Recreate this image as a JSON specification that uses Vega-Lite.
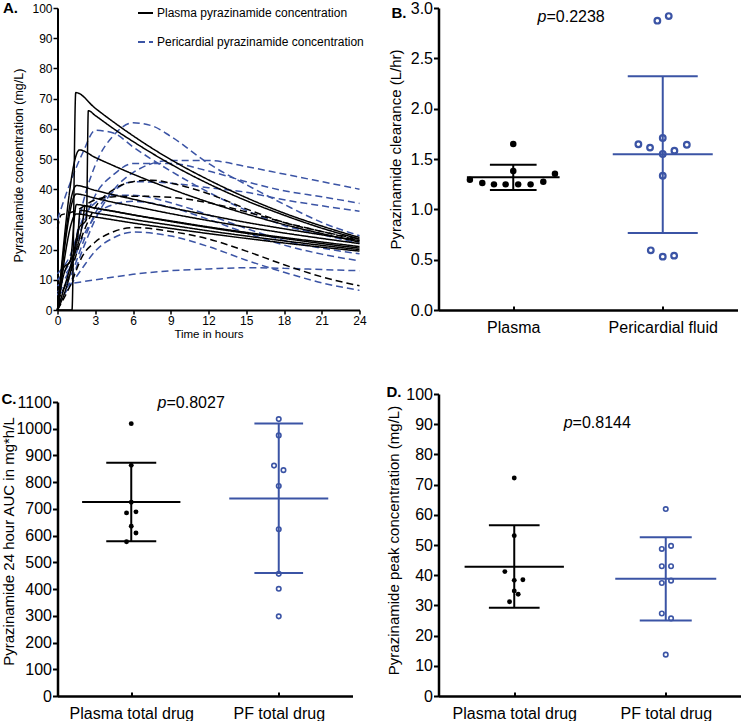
{
"$schema":"https://vega.github.io/schema/vega-lite/v6.json",
"background":"white",
"padding":{"left":0.5,"top":0,"right":0,"bottom":0},
"columns":2,
"spacing":{"row":84,"column":78},
"bounds":"flush",
"align":"all",
"config":{
 "font":"Liberation Sans",
 "view":{"stroke":null},
 "axis":{"grid":false,"domainColor":"#000","tickColor":"#000","labelColor":"#000","titleColor":"#000","titleFontWeight":"normal","labelFont":"Liberation Sans","titleFont":"Liberation Sans"},
 "title":{"color":"#000","font":"Liberation Sans"}
},
"concat":[
{
 "width":302,"height":302,
 "title":{"text":"A.","anchor":"start","frame":"group","fontSize":15,"fontWeight":"bold","dx":-54.5,"offset":-25.5,"baseline":"alphabetic"},
 "data":{"values":[
{"s":"B1","g":"F","t":0,"v":8},{"s":"B1","g":"F","t":1,"v":14},{"s":"B1","g":"F","t":2,"v":35},{"s":"B1","g":"F","t":3,"v":48},{"s":"B1","g":"F","t":4.5,"v":58},{"s":"B1","g":"F","t":6,"v":62},{"s":"B1","g":"F","t":7.5,"v":61},{"s":"B1","g":"F","t":9,"v":57.5},{"s":"B1","g":"F","t":12,"v":48.5},{"s":"B1","g":"F","t":15,"v":41.5},{"s":"B1","g":"F","t":18,"v":35},{"s":"B1","g":"F","t":21,"v":29},{"s":"B1","g":"F","t":24,"v":24.6},
{"s":"B2","g":"F","t":0,"v":30},{"s":"B2","g":"F","t":1,"v":42},{"s":"B2","g":"F","t":2,"v":52},{"s":"B2","g":"F","t":3,"v":59.5},{"s":"B2","g":"F","t":4.5,"v":58.5},{"s":"B2","g":"F","t":6,"v":54},{"s":"B2","g":"F","t":9,"v":46},{"s":"B2","g":"F","t":12,"v":39},{"s":"B2","g":"F","t":15,"v":33},{"s":"B2","g":"F","t":18,"v":28},{"s":"B2","g":"F","t":21,"v":25},{"s":"B2","g":"F","t":24,"v":22},
{"s":"B3","g":"F","t":0,"v":5},{"s":"B3","g":"F","t":1,"v":9},{"s":"B3","g":"F","t":2,"v":20},{"s":"B3","g":"F","t":3,"v":30},{"s":"B3","g":"F","t":4.5,"v":40},{"s":"B3","g":"F","t":6,"v":45.5},{"s":"B3","g":"F","t":9,"v":49.5},{"s":"B3","g":"F","t":12,"v":49.5},{"s":"B3","g":"F","t":15,"v":47.5},{"s":"B3","g":"F","t":18,"v":45},{"s":"B3","g":"F","t":21,"v":42.5},{"s":"B3","g":"F","t":24,"v":40},
{"s":"B4","g":"F","t":0,"v":10},{"s":"B4","g":"F","t":1,"v":16},{"s":"B4","g":"F","t":2,"v":28},{"s":"B4","g":"F","t":3,"v":38},{"s":"B4","g":"F","t":4.5,"v":45},{"s":"B4","g":"F","t":6,"v":48.5},{"s":"B4","g":"F","t":9,"v":48.5},{"s":"B4","g":"F","t":12,"v":46},{"s":"B4","g":"F","t":15,"v":42.5},{"s":"B4","g":"F","t":18,"v":39.5},{"s":"B4","g":"F","t":21,"v":37.5},{"s":"B4","g":"F","t":24,"v":35.3},
{"s":"B5","g":"F","t":0,"v":6},{"s":"B5","g":"F","t":1,"v":11},{"s":"B5","g":"F","t":2,"v":22},{"s":"B5","g":"F","t":3,"v":32},{"s":"B5","g":"F","t":4.5,"v":39.5},{"s":"B5","g":"F","t":6,"v":42.5},{"s":"B5","g":"F","t":9,"v":42},{"s":"B5","g":"F","t":12,"v":40.5},{"s":"B5","g":"F","t":15,"v":39},{"s":"B5","g":"F","t":18,"v":36.5},{"s":"B5","g":"F","t":21,"v":34.5},{"s":"B5","g":"F","t":24,"v":32.7},
{"s":"B6","g":"F","t":0,"v":12},{"s":"B6","g":"F","t":1,"v":18},{"s":"B6","g":"F","t":2,"v":30},{"s":"B6","g":"F","t":3,"v":35.5},{"s":"B6","g":"F","t":4.5,"v":38},{"s":"B6","g":"F","t":6,"v":38},{"s":"B6","g":"F","t":9,"v":35.5},{"s":"B6","g":"F","t":12,"v":31.5},{"s":"B6","g":"F","t":15,"v":27},{"s":"B6","g":"F","t":18,"v":23},{"s":"B6","g":"F","t":21,"v":20.5},{"s":"B6","g":"F","t":24,"v":18.6},
{"s":"B7","g":"F","t":0,"v":2},{"s":"B7","g":"F","t":1,"v":8},{"s":"B7","g":"F","t":2,"v":14},{"s":"B7","g":"F","t":3,"v":19.5},{"s":"B7","g":"F","t":4.5,"v":24},{"s":"B7","g":"F","t":6,"v":25.8},{"s":"B7","g":"F","t":9,"v":24.5},{"s":"B7","g":"F","t":12,"v":21},{"s":"B7","g":"F","t":15,"v":16.5},{"s":"B7","g":"F","t":18,"v":12.5},{"s":"B7","g":"F","t":21,"v":9},{"s":"B7","g":"F","t":24,"v":6.5},
{"s":"B8","g":"F","t":0,"v":5},{"s":"B8","g":"F","t":0.7,"v":8.5},{"s":"B8","g":"F","t":1,"v":8.7},{"s":"B8","g":"F","t":3,"v":10},{"s":"B8","g":"F","t":6,"v":11.8},{"s":"B8","g":"F","t":9,"v":13},{"s":"B8","g":"F","t":12,"v":13.6},{"s":"B8","g":"F","t":15,"v":14},{"s":"B8","g":"F","t":18,"v":13.8},{"s":"B8","g":"F","t":21,"v":13.4},{"s":"B8","g":"F","t":24,"v":13},
{"s":"B9","g":"F","t":0,"v":10},{"s":"B9","g":"F","t":1,"v":14},{"s":"B9","g":"F","t":2,"v":24},{"s":"B9","g":"F","t":3,"v":31},{"s":"B9","g":"F","t":4.5,"v":35},{"s":"B9","g":"F","t":6,"v":36},{"s":"B9","g":"F","t":9,"v":34},{"s":"B9","g":"F","t":12,"v":30},{"s":"B9","g":"F","t":15,"v":25.5},{"s":"B9","g":"F","t":18,"v":21.5},{"s":"B9","g":"F","t":21,"v":18.5},{"s":"B9","g":"F","t":24,"v":16.3},
{"s":"K1","g":"K","t":0,"v":3},{"s":"K1","g":"K","t":1,"v":12},{"s":"K1","g":"K","t":2,"v":25},{"s":"K1","g":"K","t":3,"v":34},{"s":"K1","g":"K","t":4.5,"v":40},{"s":"K1","g":"K","t":6,"v":42.5},{"s":"K1","g":"K","t":7.5,"v":43},{"s":"K1","g":"K","t":9,"v":42},{"s":"K1","g":"K","t":12,"v":38.5},{"s":"K1","g":"K","t":15,"v":33.5},{"s":"K1","g":"K","t":18,"v":29},{"s":"K1","g":"K","t":21,"v":26},{"s":"K1","g":"K","t":24,"v":23.5},
{"s":"K2","g":"K","t":0,"v":27},{"s":"K2","g":"K","t":0.3,"v":31.5},{"s":"K2","g":"K","t":0.8,"v":32},{"s":"K2","g":"K","t":1.5,"v":33},{"s":"K2","g":"K","t":3,"v":36.5},{"s":"K2","g":"K","t":4.5,"v":37.5},{"s":"K2","g":"K","t":6,"v":37.7},{"s":"K2","g":"K","t":9,"v":37.3},{"s":"K2","g":"K","t":12,"v":35.5},{"s":"K2","g":"K","t":15,"v":32.5},{"s":"K2","g":"K","t":18,"v":29},{"s":"K2","g":"K","t":21,"v":26},{"s":"K2","g":"K","t":24,"v":23},
{"s":"K3","g":"K","t":0,"v":0},{"s":"K3","g":"K","t":1,"v":8},{"s":"K3","g":"K","t":2,"v":18},{"s":"K3","g":"K","t":3,"v":22.5},{"s":"K3","g":"K","t":4.5,"v":26},{"s":"K3","g":"K","t":6,"v":27.3},{"s":"K3","g":"K","t":9,"v":26},{"s":"K3","g":"K","t":12,"v":23.5},{"s":"K3","g":"K","t":15,"v":19.5},{"s":"K3","g":"K","t":18,"v":15},{"s":"K3","g":"K","t":21,"v":11},{"s":"K3","g":"K","t":24,"v":8},
{"s":"P1","g":"P","t":0,"v":0},{"s":"P1","g":"P","t":1.15,"v":0},{"s":"P1","g":"P","t":1.45,"v":72},{"s":"P1","g":"P","t":3,"v":66.8},{"s":"P1","g":"P","t":4.5,"v":62.1},{"s":"P1","g":"P","t":6,"v":57.7},{"s":"P1","g":"P","t":9,"v":49.8},{"s":"P1","g":"P","t":12,"v":43.1},{"s":"P1","g":"P","t":15,"v":37.2},{"s":"P1","g":"P","t":18,"v":32.1},{"s":"P1","g":"P","t":21,"v":27.8},{"s":"P1","g":"P","t":24,"v":24},
{"s":"P2","g":"P","t":0,"v":0},{"s":"P2","g":"P","t":1,"v":12},{"s":"P2","g":"P","t":1.7,"v":27},{"s":"P2","g":"P","t":2.3,"v":30},{"s":"P2","g":"P","t":2.45,"v":66},{"s":"P2","g":"P","t":3,"v":64.4},{"s":"P2","g":"P","t":4.5,"v":59.9},{"s":"P2","g":"P","t":6,"v":55.8},{"s":"P2","g":"P","t":9,"v":48.3},{"s":"P2","g":"P","t":12,"v":41.8},{"s":"P2","g":"P","t":15,"v":36.2},{"s":"P2","g":"P","t":18,"v":31.4},{"s":"P2","g":"P","t":21,"v":27.1},{"s":"P2","g":"P","t":24,"v":23.5},
{"s":"P3","g":"P","t":0,"v":0},{"s":"P3","g":"P","t":1.75,"v":53},{"s":"P3","g":"P","t":3,"v":50.5},{"s":"P3","g":"P","t":4.5,"v":47.7},{"s":"P3","g":"P","t":6,"v":45},{"s":"P3","g":"P","t":9,"v":40.1},{"s":"P3","g":"P","t":12,"v":35.7},{"s":"P3","g":"P","t":15,"v":31.8},{"s":"P3","g":"P","t":18,"v":28.3},{"s":"P3","g":"P","t":21,"v":25.3},{"s":"P3","g":"P","t":24,"v":22.5},
{"s":"P4","g":"P","t":0,"v":0},{"s":"P4","g":"P","t":1.5,"v":41.2},{"s":"P4","g":"P","t":3,"v":39.6},{"s":"P4","g":"P","t":4.5,"v":38.1},{"s":"P4","g":"P","t":6,"v":36.7},{"s":"P4","g":"P","t":9,"v":33.9},{"s":"P4","g":"P","t":12,"v":31.4},{"s":"P4","g":"P","t":15,"v":29},{"s":"P4","g":"P","t":18,"v":26.9},{"s":"P4","g":"P","t":21,"v":24.9},{"s":"P4","g":"P","t":24,"v":23},
{"s":"P5","g":"P","t":0,"v":0},{"s":"P5","g":"P","t":1.5,"v":38.4},{"s":"P5","g":"P","t":3,"v":37},{"s":"P5","g":"P","t":4.5,"v":35.6},{"s":"P5","g":"P","t":6,"v":34.4},{"s":"P5","g":"P","t":9,"v":31.9},{"s":"P5","g":"P","t":12,"v":29.6},{"s":"P5","g":"P","t":15,"v":27.5},{"s":"P5","g":"P","t":18,"v":25.5},{"s":"P5","g":"P","t":21,"v":23.7},{"s":"P5","g":"P","t":24,"v":22},
{"s":"P6","g":"P","t":0,"v":0},{"s":"P6","g":"P","t":0.5,"v":14},{"s":"P6","g":"P","t":1,"v":16},{"s":"P6","g":"P","t":1.5,"v":34.9},{"s":"P6","g":"P","t":3,"v":33.7},{"s":"P6","g":"P","t":4.5,"v":32.6},{"s":"P6","g":"P","t":6,"v":31.5},{"s":"P6","g":"P","t":9,"v":29.5},{"s":"P6","g":"P","t":12,"v":27.5},{"s":"P6","g":"P","t":15,"v":25.7},{"s":"P6","g":"P","t":18,"v":24},{"s":"P6","g":"P","t":21,"v":22.5},{"s":"P6","g":"P","t":24,"v":21},
{"s":"P7","g":"P","t":0,"v":0},{"s":"P7","g":"P","t":1,"v":14},{"s":"P7","g":"P","t":2,"v":29},{"s":"P7","g":"P","t":2.2,"v":34.5},{"s":"P7","g":"P","t":3,"v":33.8},{"s":"P7","g":"P","t":4.5,"v":32.7},{"s":"P7","g":"P","t":6,"v":31.5},{"s":"P7","g":"P","t":9,"v":29.3},{"s":"P7","g":"P","t":12,"v":27.3},{"s":"P7","g":"P","t":15,"v":25.4},{"s":"P7","g":"P","t":18,"v":23.7},{"s":"P7","g":"P","t":21,"v":22},{"s":"P7","g":"P","t":24,"v":20.5},
{"s":"P8","g":"P","t":0,"v":0},{"s":"P8","g":"P","t":1.5,"v":31.8},{"s":"P8","g":"P","t":3,"v":30.8},{"s":"P8","g":"P","t":4.5,"v":29.8},{"s":"P8","g":"P","t":6,"v":28.8},{"s":"P8","g":"P","t":9,"v":27},{"s":"P8","g":"P","t":12,"v":25.3},{"s":"P8","g":"P","t":15,"v":23.7},{"s":"P8","g":"P","t":18,"v":22.2},{"s":"P8","g":"P","t":21,"v":20.8},{"s":"P8","g":"P","t":24,"v":19.5},
{"s":"P9","g":"P","t":0,"v":0},{"s":"P9","g":"P","t":0.3,"v":8},{"s":"P9","g":"P","t":1.6,"v":24},{"s":"P9","g":"P","t":1.8,"v":33},{"s":"P9","g":"P","t":3,"v":32.1},{"s":"P9","g":"P","t":4.5,"v":31.1},{"s":"P9","g":"P","t":6,"v":30},{"s":"P9","g":"P","t":9,"v":28.1},{"s":"P9","g":"P","t":12,"v":26.2},{"s":"P9","g":"P","t":15,"v":24.5},{"s":"P9","g":"P","t":18,"v":22.9},{"s":"P9","g":"P","t":21,"v":21.4},{"s":"P9","g":"P","t":24,"v":20}
 ]},
 "mark":{"type":"line","interpolate":"monotone","strokeWidth":1.5},
 "encoding":{
  "x":{"field":"t","type":"quantitative","scale":{"domain":[0,24],"nice":false},"axis":{"values":[0,3,6,9,12,15,18,21,24],"title":"Time in hours","labelFontSize":12,"titleFontSize":11.5,"tickSize":4,"tickWidth":1.5,"labelPadding":1,"domainWidth":2,"titlePadding":2,"labelFlush":false}},
  "y":{"field":"v","type":"quantitative","scale":{"domain":[0,100],"nice":false},"axis":{"values":[0,10,20,30,40,50,60,70,80,90,100],"title":"Pyrazinamide concentration (mg/L)","labelFontSize":12,"titleFontSize":12.5,"tickSize":4.5,"tickWidth":1.5,"labelPadding":1,"domainWidth":2,"titleX":-35,"titleY":157,"titleBaseline":"alphabetic","titleAngle":-90,"titleAlign":"center"}},
  "detail":{"field":"s","type":"nominal"},
  "color":{"field":"g","type":"nominal","scale":{"domain":["P","F","K"],"range":["#000000","#3b54a5","#000000"]},"legend":{"values":["P","F"],"title":null,"orient":"none","legendX":79.5,"legendY":-3.5,"labelExpr":"datum.value == 'P' ? 'Plasma pyrazinamide concentration' : 'Pericardial pyrazinamide concentration'","labelFontSize":12,"labelColor":"#000","labelLimit":400,"symbolType":"stroke","symbolSize":225,"symbolStrokeWidth":2,"labelOffset":3,"rowPadding":14,"padding":0}},
  "strokeDash":{"field":"g","type":"nominal","scale":{"domain":["P","F","K"],"range":[[1,0],[7,4],[7,4]]},"legend":{"values":["P","F"],"title":null,"orient":"none","legendX":79.5,"legendY":-3.5,"labelExpr":"datum.value == 'P' ? 'Plasma pyrazinamide concentration' : 'Pericardial pyrazinamide concentration'","labelFontSize":12,"labelColor":"#000","labelLimit":400,"symbolType":"stroke","symbolSize":225,"symbolStrokeWidth":2,"labelOffset":3,"rowPadding":14,"padding":0}}
 }
},
{
 "width":299,"height":302,
 "title":{"text":"B.","anchor":"start","frame":"group","fontSize":15,"fontWeight":"bold","dx":-47,"offset":-33,"baseline":"alphabetic"},
 "encoding":{
  "x":{"field":"x","type":"quantitative","scale":{"domain":[0.5,2.5],"nice":false,"zero":false},"axis":{"values":[1,2],"labelExpr":"datum.value == 1 ? 'Plasma' : 'Pericardial fluid'","title":null,"labelFontSize":16,"tickSize":-4,"tickWidth":2,"labelPadding":13,"domainWidth":2.5}},
  "y":{"field":"v","type":"quantitative","scale":{"domain":[0,3],"nice":false},"axis":{"values":[0,0.5,1,1.5,2,2.5,3],"format":".1f","labelFontSize":16,"tickSize":5,"tickWidth":2,"labelPadding":1,"domainWidth":2.5,"title":"Pyrazinamide clearance (L/hr)","titleFontSize":15,"titleX":-38.5,"titleY":141,"titleBaseline":"alphabetic","titleAngle":-90,"titleAlign":"center"}}
 },
 "layer":[
  {"data":{"values":[{"x":1,"v":1.192,"v2":1.444}]},"mark":{"type":"rule","color":"#000","strokeWidth":2},"encoding":{"y2":{"field":"v2"}}},
  {"data":{"values":[{"x":2,"v":0.765,"v2":2.321}]},"mark":{"type":"rule","color":"#3b54a5","strokeWidth":2},"encoding":{"y2":{"field":"v2"}}},
  {"data":{"values":[{"x":1,"v":1.318}]},"mark":{"type":"tick","orient":"horizontal","size":92.7,"thickness":2,"color":"#000","opacity":1},"encoding":{}},
  {"data":{"values":[{"x":2,"v":1.546}]},"mark":{"type":"tick","orient":"horizontal","size":100,"thickness":2,"color":"#3b54a5","opacity":1},"encoding":{}},
  {"data":{"values":[{"x":1,"v":1.192},{"x":1,"v":1.444}]},"mark":{"type":"tick","orient":"horizontal","size":46.7,"thickness":2,"color":"#000","opacity":1},"encoding":{}},
  {"data":{"values":[{"x":2,"v":0.765},{"x":2,"v":2.321}]},"mark":{"type":"tick","orient":"horizontal","size":70,"thickness":2,"color":"#3b54a5","opacity":1},"encoding":{}},
  {"data":{"values":[{"x":0.710,"v":1.295},{"x":0.793,"v":1.262},{"x":0.871,"v":1.248},{"x":0.949,"v":1.248},{"x":1.033,"v":1.248},{"x":1.116,"v":1.248},{"x":1.201,"v":1.275},{"x":1.279,"v":1.354},{"x":1,"v":1.649},{"x":1,"v":1.381}]},"mark":{"type":"circle","color":"#000","size":42,"opacity":1},"encoding":{}},
  {"data":{"values":[{"x":1.964,"v":2.874},{"x":2.040,"v":2.92},{"x":1.837,"v":1.646},{"x":1.915,"v":1.613},{"x":2,"v":1.709},{"x":2,"v":1.55},{"x":2.078,"v":1.583},{"x":2.161,"v":1.642},{"x":2,"v":1.334},{"x":1.920,"v":0.593},{"x":2,"v":0.53},{"x":2.076,"v":0.54}]},"mark":{"type":"point","shape":"circle","filled":false,"color":"#3b54a5","size":32,"strokeWidth":2.2,"opacity":1},"encoding":{}},
  {"data":{"values":[{"x":1.222,"v":2.91}]},"mark":{"type":"text","text":"p","fontStyle":"italic","align":"right","baseline":"middle","fontSize":16,"color":"#000"},"encoding":{}},
  {"data":{"values":[{"x":1.222,"v":2.91}]},"mark":{"type":"text","text":"=0.2238","align":"left","baseline":"middle","fontSize":16,"color":"#000"},"encoding":{}}
 ]
},
{
 "width":295,"height":302,
 "title":{"text":"C.","anchor":"start","frame":"group","fontSize":15,"fontWeight":"bold","dx":-56,"offset":-25,"baseline":"alphabetic"},
 "encoding":{
  "x":{"field":"x","type":"quantitative","scale":{"domain":[0.5,2.5],"nice":false,"zero":false},"axis":{"values":[1,2],"labelExpr":"datum.value == 1 ? 'Plasma total drug' : 'PF total drug'","title":null,"labelFontSize":16,"tickSize":-4,"tickWidth":2,"labelPadding":13,"domainWidth":2.5}},
  "y":{"field":"v","type":"quantitative","scale":{"domain":[0,1100],"rangeMax":8,"nice":false},"axis":{"values":[0,100,200,300,400,500,600,700,800,900,1000,1100],"format":"d","labelFontSize":16,"tickSize":5,"tickWidth":2,"labelPadding":1,"domainWidth":2.5,"title":"Pyrazinamide 24 hour AUC in mg*h/L","titleFontSize":15,"titleX":-44.5,"titleY":147,"titleBaseline":"alphabetic","titleAngle":-90,"titleAlign":"center"}}
 },
 "layer":[
  {"data":{"values":[{"x":1,"v":579,"v2":873}]},"mark":{"type":"rule","color":"#000","strokeWidth":2},"encoding":{"y2":{"field":"v2"}}},
  {"data":{"values":[{"x":2,"v":460,"v2":1020}]},"mark":{"type":"rule","color":"#3b54a5","strokeWidth":2},"encoding":{"y2":{"field":"v2"}}},
  {"data":{"values":[{"x":1,"v":726}]},"mark":{"type":"tick","orient":"horizontal","size":98.3,"thickness":2,"color":"#000","opacity":1},"encoding":{}},
  {"data":{"values":[{"x":2,"v":739}]},"mark":{"type":"tick","orient":"horizontal","size":99,"thickness":2,"color":"#3b54a5","opacity":1},"encoding":{}},
  {"data":{"values":[{"x":1,"v":579},{"x":1,"v":873}]},"mark":{"type":"tick","orient":"horizontal","size":50,"thickness":2,"color":"#000","opacity":1},"encoding":{}},
  {"data":{"values":[{"x":2,"v":460},{"x":2,"v":1020}]},"mark":{"type":"tick","orient":"horizontal","size":48.7,"thickness":2,"color":"#3b54a5","opacity":1},"encoding":{}},
  {"data":{"values":[{"x":1,"v":1019},{"x":1,"v":863},{"x":1,"v":725},{"x":0.968,"v":685},{"x":1.032,"v":689},{"x":1,"v":635},{"x":1.032,"v":610},{"x":0.968,"v":577}]},"mark":{"type":"circle","color":"#000","size":24,"opacity":1},"encoding":{}},
  {"data":{"values":[{"x":2,"v":1036},{"x":2,"v":975},{"x":1.968,"v":862},{"x":2.032,"v":845},{"x":2,"v":786},{"x":2,"v":624},{"x":2,"v":457},{"x":2,"v":401},{"x":2,"v":298}]},"mark":{"type":"point","shape":"circle","filled":false,"color":"#3b54a5","size":20,"strokeWidth":1.6,"opacity":1},"encoding":{}},
  {"data":{"values":[{"x":1.239,"v":1096}]},"mark":{"type":"text","text":"p","fontStyle":"italic","align":"right","baseline":"middle","fontSize":16,"color":"#000"},"encoding":{}},
  {"data":{"values":[{"x":1.239,"v":1096}]},"mark":{"type":"text","text":"=0.8027","align":"left","baseline":"middle","fontSize":16,"color":"#000"},"encoding":{}}
 ]
},
{
 "width":303,"height":302,
 "title":{"text":"D.","anchor":"start","frame":"group","fontSize":15,"fontWeight":"bold","dx":-52,"offset":-26.4,"baseline":"alphabetic"},
 "encoding":{
  "x":{"field":"x","type":"quantitative","scale":{"domain":[0.5,2.5],"nice":false,"zero":false},"axis":{"values":[1,2],"labelExpr":"datum.value == 1 ? 'Plasma total drug' : 'PF total drug'","title":null,"labelFontSize":16,"tickSize":-4,"tickWidth":2,"labelPadding":13,"domainWidth":2.5}},
  "y":{"field":"v","type":"quantitative","scale":{"domain":[0,100],"nice":false},"axis":{"values":[0,10,20,30,40,50,60,70,80,90,100],"labelFontSize":16,"tickSize":5,"tickWidth":2,"labelPadding":1,"domainWidth":2.5,"title":"Pyrazinamide  peak concentration (mg/L)","titleFontSize":15,"titleX":-39.6,"titleY":146,"titleBaseline":"alphabetic","titleAngle":-90,"titleAlign":"center"}}
 },
 "layer":[
  {"data":{"values":[{"x":1,"v":29.2,"v2":56.5}]},"mark":{"type":"rule","color":"#000","strokeWidth":2},"encoding":{"y2":{"field":"v2"}}},
  {"data":{"values":[{"x":2,"v":25.0,"v2":52.6}]},"mark":{"type":"rule","color":"#3b54a5","strokeWidth":2},"encoding":{"y2":{"field":"v2"}}},
  {"data":{"values":[{"x":1,"v":42.8}]},"mark":{"type":"tick","orient":"horizontal","size":99.3,"thickness":2,"color":"#000","opacity":1},"encoding":{}},
  {"data":{"values":[{"x":2,"v":38.8}]},"mark":{"type":"tick","orient":"horizontal","size":101,"thickness":2,"color":"#3b54a5","opacity":1},"encoding":{}},
  {"data":{"values":[{"x":1,"v":29.2},{"x":1,"v":56.5}]},"mark":{"type":"tick","orient":"horizontal","size":50.7,"thickness":2,"color":"#000","opacity":1},"encoding":{}},
  {"data":{"values":[{"x":2,"v":25.0},{"x":2,"v":52.6}]},"mark":{"type":"tick","orient":"horizontal","size":52,"thickness":2,"color":"#3b54a5","opacity":1},"encoding":{}},
  {"data":{"values":[{"x":1,"v":72.2},{"x":1,"v":53.1},{"x":0.938,"v":41.2},{"x":1,"v":38.3},{"x":1.057,"v":38.5},{"x":1,"v":34.8},{"x":1.026,"v":33.7},{"x":0.969,"v":31.2}]},"mark":{"type":"circle","color":"#000","size":24,"opacity":1},"encoding":{}},
  {"data":{"values":[{"x":2,"v":61.9},{"x":1.974,"v":48.7},{"x":2.035,"v":49.7},{"x":1.974,"v":42.95},{"x":2.035,"v":42.95},{"x":1.974,"v":37.4},{"x":2.035,"v":38.2},{"x":1.974,"v":27.3},{"x":2.035,"v":25.7},{"x":2,"v":13.7}]},"mark":{"type":"point","shape":"circle","filled":false,"color":"#3b54a5","size":20,"strokeWidth":1.6,"opacity":1},"encoding":{}},
  {"data":{"values":[{"x":1.385,"v":90.4}]},"mark":{"type":"text","text":"p","fontStyle":"italic","align":"right","baseline":"middle","fontSize":16,"color":"#000"},"encoding":{}},
  {"data":{"values":[{"x":1.385,"v":90.4}]},"mark":{"type":"text","text":"=0.8144","align":"left","baseline":"middle","fontSize":16,"color":"#000"},"encoding":{}}
 ]
}
]
}
